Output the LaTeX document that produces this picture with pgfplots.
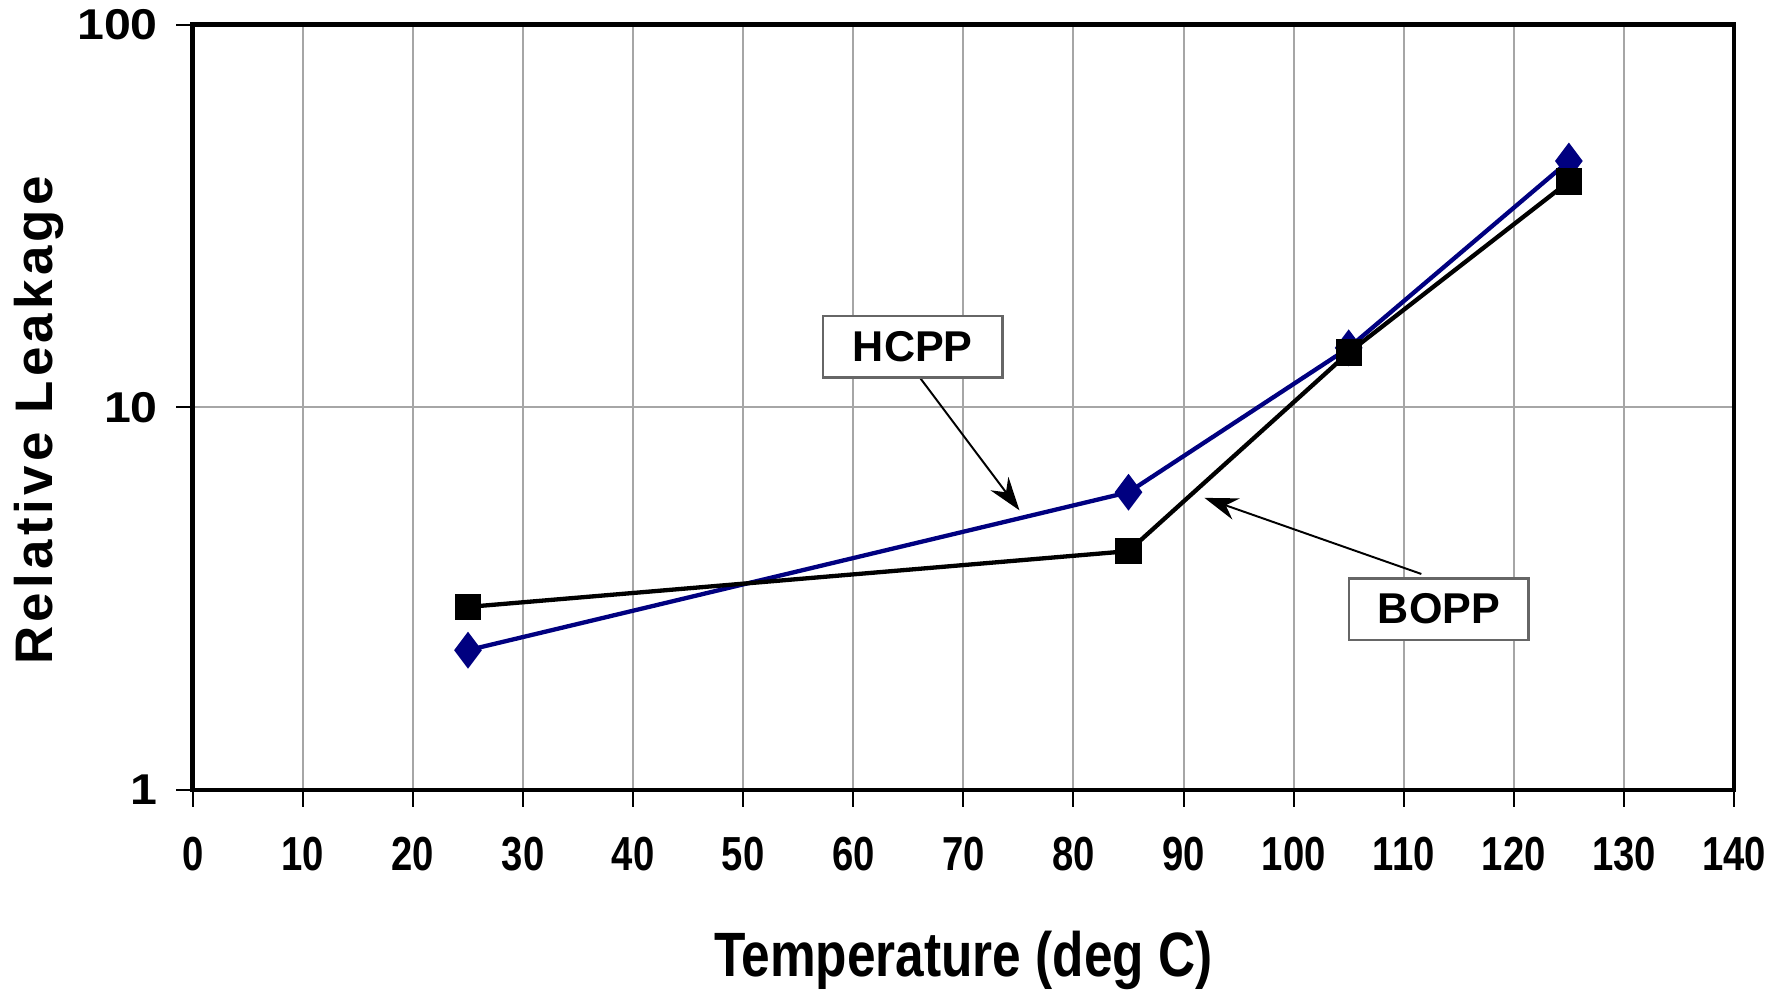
\documentclass[border=0pt]{standalone}
\usepackage{pgfplots}
\pgfplotsset{compat=1.18}
\usepackage{fontspec}
\setmainfont{Liberation Sans}
\newfontfamily\condfont[FakeStretch=0.8]{Liberation Sans}
\newfontfamily\labelfont[FakeStretch=0.82]{Liberation Sans}
\newfontfamily\widefont[FakeStretch=1.12]{Liberation Sans}
\newfontfamily\spacedfont[LetterSpace=8]{Liberation Sans}
\usetikzlibrary{arrows.meta}
\definecolor{hcpp}{RGB}{0,0,128}

\begin{document}
\begin{tikzpicture}
\begin{axis}[
    name=ax,
    scale only axis,
    width=13.83cm, height=6.87cm,
    xmin=0, xmax=140, ymin=1, ymax=100,
    ymode=log,
    xtick={0,10,...,140},
    ytick={1,10,100}, yticklabels={1,10,100},
    yminorticks=false,
    xmajorgrids, ymajorgrids,
    grid style={gray!70, line width=0.5pt},
    axis line style={line width=1.2pt},
    tick align=outside, tick pos=left,
    major tick length=0.15cm,
    tick style={black, line width=0.5pt},
    /pgf/number format/assume math mode=true,
    xticklabel style={font=\fontsize{12.2}{14}\selectfont\condfont\bfseries, anchor=north, yshift=-0.15cm},
    yticklabel style={font=\fontsize{11}{13}\selectfont\widefont\bfseries, anchor=east, xshift=-0.04cm},
    xlabel={Temperature (deg C)},
    ylabel={Relative Leakage},
    every axis x label/.style={at={(axis description cs:0.5,-0.222)}, anchor=center,
        font=\fontsize{16}{19}\selectfont\labelfont\bfseries},
    every axis y label/.style={at={(axis description cs:-0.0998,0.483)}, rotate=90, anchor=center,
        font=\fontsize{13.5}{16}\selectfont\spacedfont\bfseries},
]
% HCPP
\addplot[hcpp, line width=1.1pt, mark=diamond*, mark size=3.8pt, mark options={solid}] coordinates {
    (25,2.32) (85,6.0) (105,14.3) (125,44.0)
};
% BOPP
\addplot[black, line width=1.1pt, mark=square*, mark size=2.8pt] coordinates {
    (25,3.01) (85,4.21) (105,13.9) (125,38.9)
};
\draw[line width=0.5pt, -{Stealth[length=3mm, width=2mm]}] (axis cs:66.1,11.9) -- (axis cs:75.1,5.38);
\draw[line width=0.5pt, -{Stealth[length=3mm, width=2mm]}] (axis cs:111.6,3.67) -- (axis cs:91.9,5.80);
\node[draw=gray!80!black, fill=white, line width=0.6pt, minimum width=1.61cm, minimum height=0.55cm,
      font=\fontsize{11}{13}\selectfont\bfseries] at (axis cs:65.4,14.4) {HCPP};
\node[draw=gray!80!black, fill=white, line width=0.6pt, minimum width=1.61cm, minimum height=0.55cm,
      font=\fontsize{11}{13}\selectfont\bfseries] at (axis cs:113.2,2.97) {BOPP};
\end{axis}
\pgfresetboundingbox
\path[use as bounding box] ([shift={(-1.73cm,-1.8cm)}]ax.south west) rectangle ([shift={(0.44cm,0.22cm)}]ax.north east);
\end{tikzpicture}
\end{document}
